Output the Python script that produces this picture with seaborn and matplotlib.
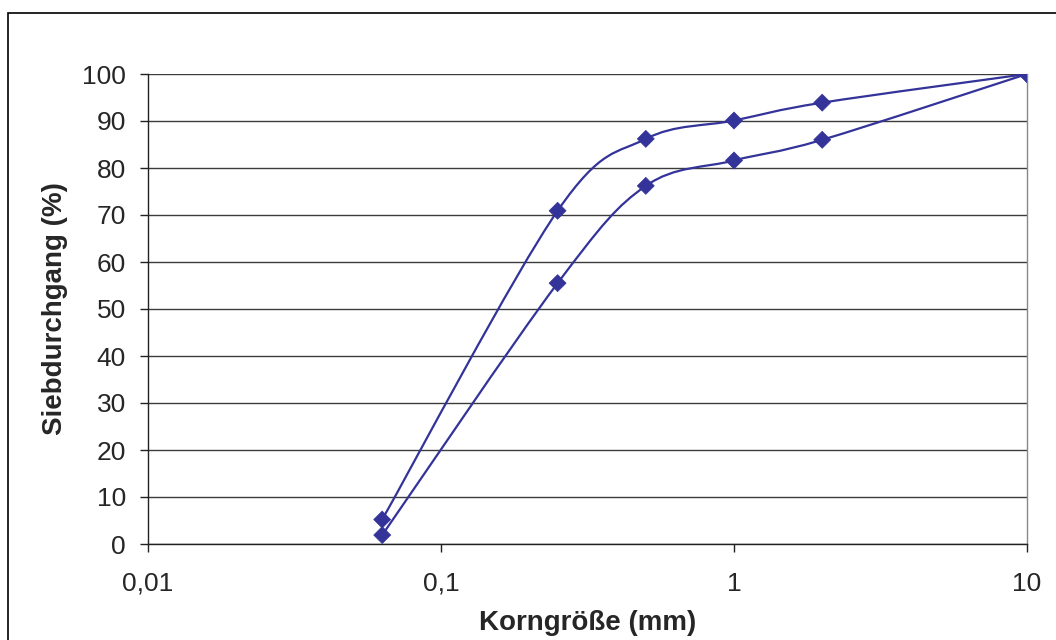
import numpy as np
import matplotlib
matplotlib.use("Agg")
import matplotlib.pyplot as plt
from matplotlib.path import Path
from matplotlib.patches import PathPatch, Rectangle
import seaborn as sns
import pandas as pd

# sieve sizes (mm) and passing percentages for two samples
GRAIN_MM = [0.063, 0.25, 0.5, 1, 2, 10]
UPPER = [5.2, 70.9, 86.2, 90.1, 93.9, 100]
LOWER = [1.9, 55.5, 76.2, 81.6, 86.0, 100]
XTICKS = [0.01, 0.1, 1, 10]
XTICKLABELS = ["0,01", "0,1", "1", "10"]
YTICKS = list(range(0, 101, 10))

COLOR = "#333399"


def smooth_path(xs, ys):
    # Excel-like smoothing: cubic Bezier through points (Catmull-Rom control points),
    # built in log-x space so the curve looks right on the log axis
    lx = np.log10(xs)
    y = np.asarray(ys, dtype=float)
    n = len(lx)
    verts = [(xs[0], y[0])]
    codes = [Path.MOVETO]
    for i in range(n - 1):
        p0 = max(i - 1, 0)
        p3 = min(i + 2, n - 1)
        c1x = lx[i] + (lx[i + 1] - lx[p0]) / 6
        c1y = y[i] + (y[i + 1] - y[p0]) / 6
        c2x = lx[i + 1] - (lx[p3] - lx[i]) / 6
        c2y = y[i + 1] - (y[p3] - y[i]) / 6
        verts += [(10 ** c1x, c1y), (10 ** c2x, c2y), (xs[i + 1], y[i + 1])]
        codes += [Path.CURVE4] * 3
    return Path(verts, codes)


def main():
    sns.set_style("white")
    plt.rcParams["font.family"] = ["Liberation Sans", "DejaVu Sans"]

    df = pd.concat([
        pd.DataFrame({"size": GRAIN_MM, "pass": UPPER, "sample": "A"}),
        pd.DataFrame({"size": GRAIN_MM, "pass": LOWER, "sample": "B"}),
    ], ignore_index=True)

    fig = plt.figure(figsize=(10.56, 6.4), dpi=100)
    ax = fig.add_axes([148 / 1056, 1 - 544 / 640, (1027 - 148) / 1056, (544 - 74) / 640])

    ax.set_xscale("log")
    ax.set_xlim(0.01, 10)
    ax.set_ylim(0, 100)

    for ys in (UPPER, LOWER):
        ax.add_patch(PathPatch(smooth_path(GRAIN_MM, ys), facecolor="none",
                               edgecolor=COLOR, lw=1.6, zorder=3))

    sns.scatterplot(data=df, x="size", y="pass", hue="sample",
                    palette=[COLOR, COLOR], marker="D", s=75,
                    edgecolor=COLOR, linewidth=0.5, legend=False, ax=ax, zorder=4)

    ax.set_yticks(YTICKS)
    ax.set_xticks(XTICKS)
    ax.set_xticklabels(XTICKLABELS)
    ax.xaxis.set_minor_locator(matplotlib.ticker.NullLocator())

    ax.yaxis.grid(True, color="#3c3c3c", lw=1)
    ax.xaxis.grid(False)
    ax.set_axisbelow(True)

    for s in ("left", "bottom"):
        ax.spines[s].set_color("#222222")
        ax.spines[s].set_linewidth(1)
    ax.spines["right"].set_color("#888888")
    ax.spines["right"].set_linewidth(1)
    ax.spines["top"].set_visible(False)

    ax.tick_params(axis="both", which="major", direction="out", length=6, width=1,
                   color="#222222", labelsize=19, left=True, bottom=True)
    ax.tick_params(axis="y", pad=10)
    ax.tick_params(axis="x", pad=14)

    ax.set_xlabel("Korngröße (mm)", fontsize=20, fontweight="bold", labelpad=10)
    ax.set_ylabel("Siebdurchgang (%)", fontsize=20, fontweight="bold", labelpad=10)

    # outer chart frame (cut off at right and bottom)
    fig.patches.append(Rectangle((8 / 1056, -0.1), 1.2, 1 - 13 / 640 + 0.1,
                                 transform=fig.transFigure, fill=False,
                                 edgecolor="black", lw=1.2))

    fig.savefig("out.png", dpi=100)
    plt.close()


if __name__ == "__main__":
    main()
